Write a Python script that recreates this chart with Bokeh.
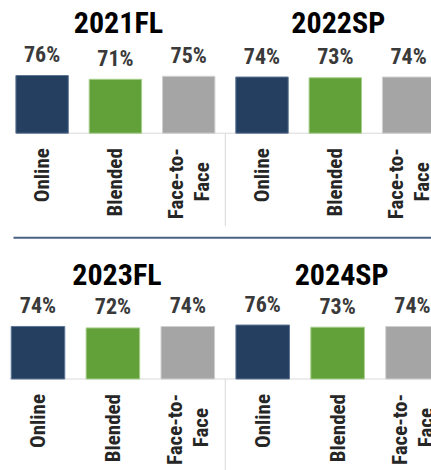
import math

from bokeh.core.properties import value
from bokeh.embed import file_html
from bokeh.layouts import column
from bokeh.models import Range1d
from bokeh.plotting import figure
from bokeh.resources import INLINE

# Course modality satisfaction by term
modes = ["Online", "Blended", "Face-to-\nFace"]
terms_top = ["2021FL", "2022SP"]
terms_bottom = ["2023FL", "2024SP"]
rates_2021FL = [76, 71, 75]
rates_2022SP = [74, 73, 74]
rates_2023FL = [74, 72, 74]
rates_2024SP = [76, 73, 74]
mode_colors = ["#243F60", "#62A03A", "#A5A5A5"]
mode_edges = ["#5E7595", "#A8CF8C", "#D0D0D0"]

FONT = value("Roboto Condensed, DejaVu Sans Condensed, Liberation Sans Narrow, Arial Narrow, Roboto")
WIN_W = 431


def make_row(terms, rates, height, axis_px, first_px, step_px, pct_px,
             title_rise, title_shift, axis_start_px, divider_px, separator_px=None):
    """One row of term panels; pixel layout converted to data units."""
    x_start = -first_px / step_px
    x_end = (WIN_W - first_px) / step_px
    y_top = axis_px / pct_px
    y_bot = -(height - axis_px) / pct_px

    p = figure(width=WIN_W, height=height,
               x_range=Range1d(x_start, x_end), y_range=Range1d(y_bot, y_top),
               output_backend="svg", toolbar_location=None,
               x_axis_location=None, y_axis_location=None, min_border=0)
    p.grid.visible = False
    p.outline_line_color = None
    p.background_fill_color = "white"
    p.border_fill_color = "white"

    n = len(modes)
    xs, tops, fills, edges, labels = [], [], [], [], []
    for g, vals in enumerate(rates):
        for k, v in enumerate(vals):
            xs.append(g * n + k)
            tops.append(v)
            fills.append(mode_colors[k])
            edges.append(mode_edges[k])
            labels.append(f"{v}%")

    # category axis baseline and group divider
    p.segment(x0=[(axis_start_px - first_px) / step_px], y0=[0], x1=[x_end], y1=[0],
              line_color="#D9D9D9", line_width=1)
    p.segment(x0=[n - 0.5], y0=[0], x1=[n - 0.5], y1=[-divider_px / pct_px],
              line_color="#D9D9D9", line_width=1)

    p.vbar(x=xs, top=tops, bottom=0, width=0.715,
           fill_color=fills, line_color=edges, line_width=1)

    p.text(x=xs, y=tops, text=labels, text_font=FONT, text_font_style="bold",
           text_font_size="22px", text_color="#3A3A3A", text_align="center",
           text_baseline="alphabetic", y_offset=-21)

    # group titles
    p.text(x=[g * n + (n - 1) / 2 + title_shift / step_px for g in range(len(terms))],
           y=[title_rise / pct_px] * len(terms), text=terms, text_font=FONT,
           text_font_style="bold", text_font_size="30px", text_color="#000000",
           text_align="center", text_baseline="alphabetic")

    # vertical category labels, end anchored just below the baseline
    gap = 15 / pct_px
    line_sep = 13 / step_px
    one_x, one_y, one_t = [], [], []
    cen_x, cen_y, cen_t = [], [], []
    for g in range(len(terms)):
        for k, lab in enumerate(modes):
            x = g * n + k
            lines = lab.split("\n")
            if len(lines) == 1:
                one_x.append(x); one_y.append(-gap); one_t.append(lab)
            else:
                half = len(lines[0]) * 21 * 0.4 / 2
                one_x.append(x - line_sep); one_y.append(-gap); one_t.append(lines[0])
                for j, ln in enumerate(lines[1:], start=1):
                    cen_x.append(x - line_sep + 2 * line_sep * j)
                    cen_y.append(-(15 + half) / pct_px)
                    cen_t.append(ln)
    common = dict(text_font=FONT, text_font_style="bold", text_font_size="21px",
                  text_color="#262626", angle=math.pi / 2, text_baseline="middle")
    p.text(x=one_x, y=one_y, text=one_t, text_align="right", **common)
    p.text(x=cen_x, y=cen_y, text=cen_t, text_align="center", **common)

    if separator_px is not None:
        p.segment(x0=[(13 - first_px) / step_px], y0=[-(separator_px - axis_px) / pct_px],
                  x1=[x_end], y1=[-(separator_px - axis_px) / pct_px],
                  line_color="#4A6283", line_width=2)
    return p


top = make_row(terms_top, [rates_2021FL, rates_2022SP], height=240, axis_px=132.7,
               first_px=41.6, step_px=73.3, pct_px=0.759, title_rise=111.0,
               title_shift=3.0, axis_start_px=15, divider_px=93, separator_px=237.3)
bottom = make_row(terms_bottom, [rates_2023FL, rates_2024SP], height=230, axis_px=138.5,
                  first_px=37.5, step_px=74.9, pct_px=0.71, title_rise=104.7,
                  title_shift=4.0, axis_start_px=9, divider_px=95)

layout = column(top, bottom, spacing=0)
open("out.html", "w").write(file_html(layout, INLINE))
